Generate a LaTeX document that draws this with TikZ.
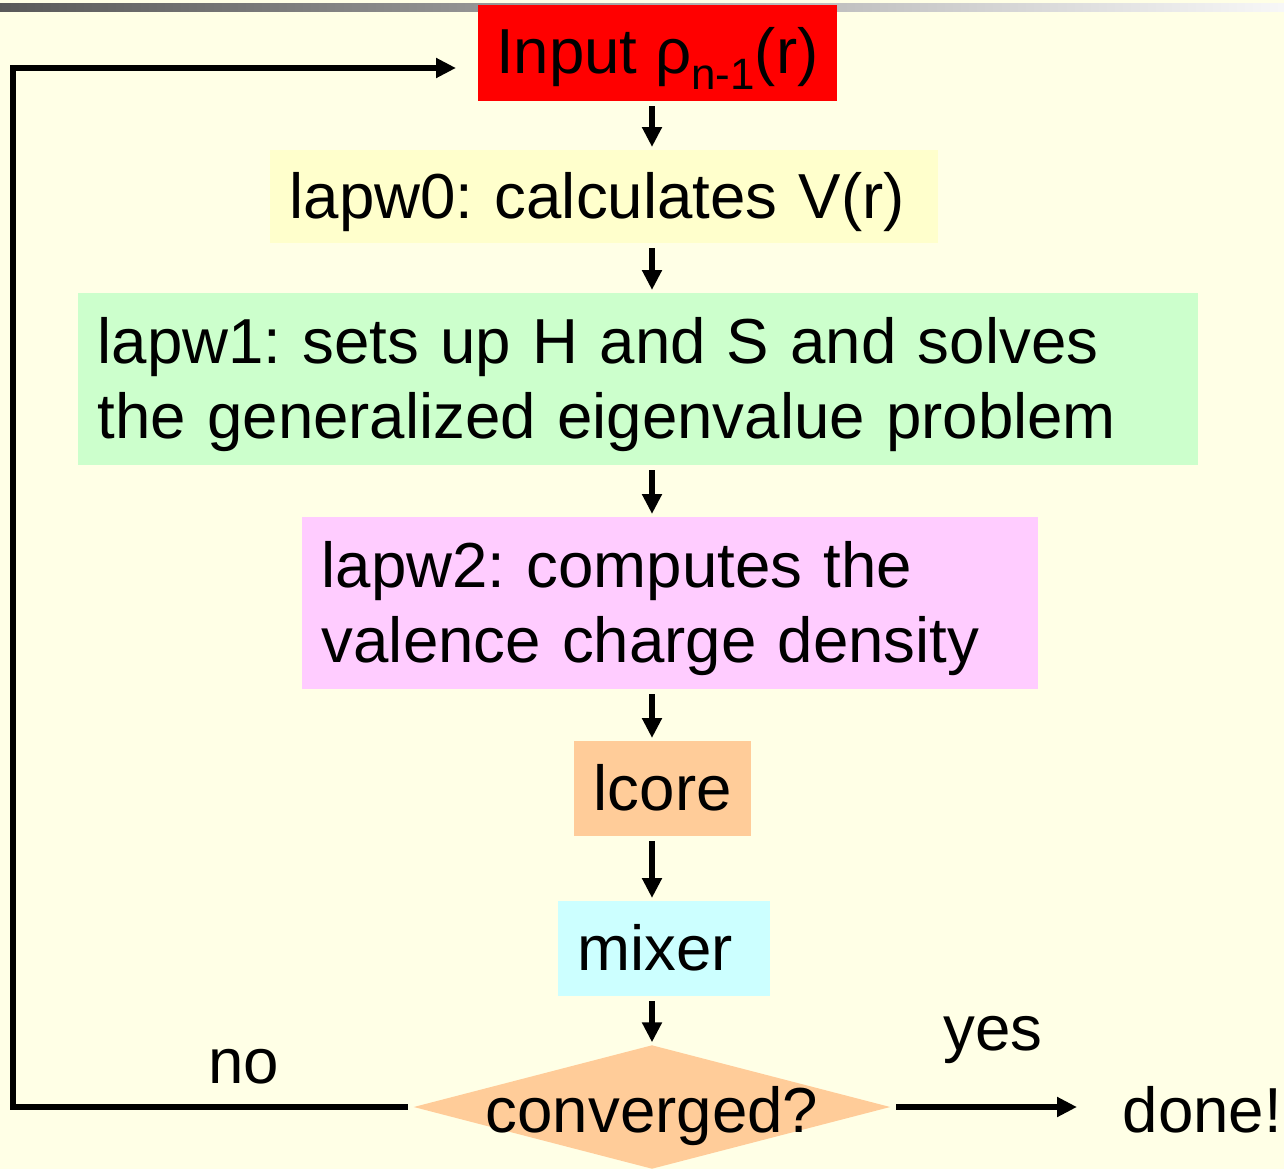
\documentclass[tikz,border=0pt]{standalone}
\usepackage{fontspec}
\setmainfont{Liberation Sans}
\usepackage{tikz}
\usetikzlibrary{arrows.meta,shapes.geometric}
\usepackage{xcolor}
\frenchspacing
\definecolor{pagebg}{HTML}{FFFFE6}
\definecolor{lapwyellow}{HTML}{FFFFCC}
\definecolor{lapwgreen}{HTML}{CCFFCC}
\definecolor{lapwpink}{HTML}{FFCCFF}
\definecolor{lapwpeach}{HTML}{FFCC99}
\definecolor{lapwcyan}{HTML}{CCFFFF}
\newcommand\lowidx[1]{\raisebox{-4.8pt}{\fontsize{12.5}{12.5}\selectfont #1}}
\newcommand\pptstrut{\rule[-0.212em]{0pt}{1.117em}}

\begin{document}
\begin{tikzpicture}[>={Triangle[length=2mm,width=1.9mm]},font=\fontsize{18.1}{21.3}\selectfont,
  box/.style={anchor=north west,inner xsep=2mm,inner ysep=0pt,align=left,
    execute at begin node=\pptstrut,execute at end node=\pptstrut},
  flow/.style={->,line width=1.5pt,shorten <=0.5mm,shorten >=0.2mm},
  tag/.style={inner sep=0pt,anchor=base}]
\useasboundingbox (0,0) rectangle (12.84,-11.69);
\fill[pagebg] (0,0) rectangle (12.84,-11.69);
\shade[left color=black!65,right color=black!3] (0,-0.04) rectangle (12.84,-0.11);
% the scf cycle
\node[anchor=north west,inner sep=0pt,fill=red,minimum width=3.59cm,minimum height=0.96cm] (input) at (4.77,-0.04) {\pptstrut Input ρ\lowidx{n-1}(r)};
\node[box,fill=lapwyellow,text width=6.28cm,minimum height=0.93cm] (lapw0) at (2.69,-1.49) {lapw0: calculates V(r)};
\node[box,fill=lapwgreen,text width=10.8cm,minimum height=1.72cm] (lapw1) at (0.77,-2.92) {lapw1: sets up H and S and solves\\the generalized eigenvalue problem};
\node[box,fill=lapwpink,text width=6.96cm,minimum height=1.72cm] (lapw2) at (3.01,-5.16) {lapw2: computes the\\valence charge density};
\node[box,fill=lapwpeach,text width=1.37cm,minimum height=0.95cm] (lcore) at (5.73,-7.40) {lcore};
\node[box,fill=lapwcyan,text width=1.72cm,minimum height=0.95cm] (mixer) at (5.57,-9.00) {mixer};
\node[diamond,fill=lapwpeach,inner sep=0pt,minimum width=4.77cm,minimum height=1.24cm,
  label={[inner sep=0pt,yshift=-0.03cm]center:\pptstrut converged?}] (conv) at (6.52,-11.07) {};
% labels
\node[tag] (no) at (2.435,-10.83) {no};
\node[tag] (yes) at (9.93,-10.50) {yes};
\node[tag,anchor=base west] (done) at (11.22,-11.32) {done!};
\coordinate (back) at (0.13,-0.68);
% arrows
\draw[flow] (input.south -| conv) -- (lapw0.north -| conv);
\draw[flow] (lapw0.south -| conv) -- (lapw1.north -| conv);
\draw[flow] (lapw1.south -| conv) -- (lapw2.north -| conv);
\draw[flow] (lapw2.south -| conv) -- (lcore.north -| conv);
\draw[flow] (lcore.south -| conv) -- (mixer.north -| conv);
\draw[flow] (mixer.south -| conv) -- (conv.north);
\draw[flow,shorten >=0.45cm] (conv.east) -- (done.west |- conv);
\draw[flow,shorten >=2.1mm] (conv.west) -| (back) -- (input.west |- back);
\end{tikzpicture}
\end{document}
